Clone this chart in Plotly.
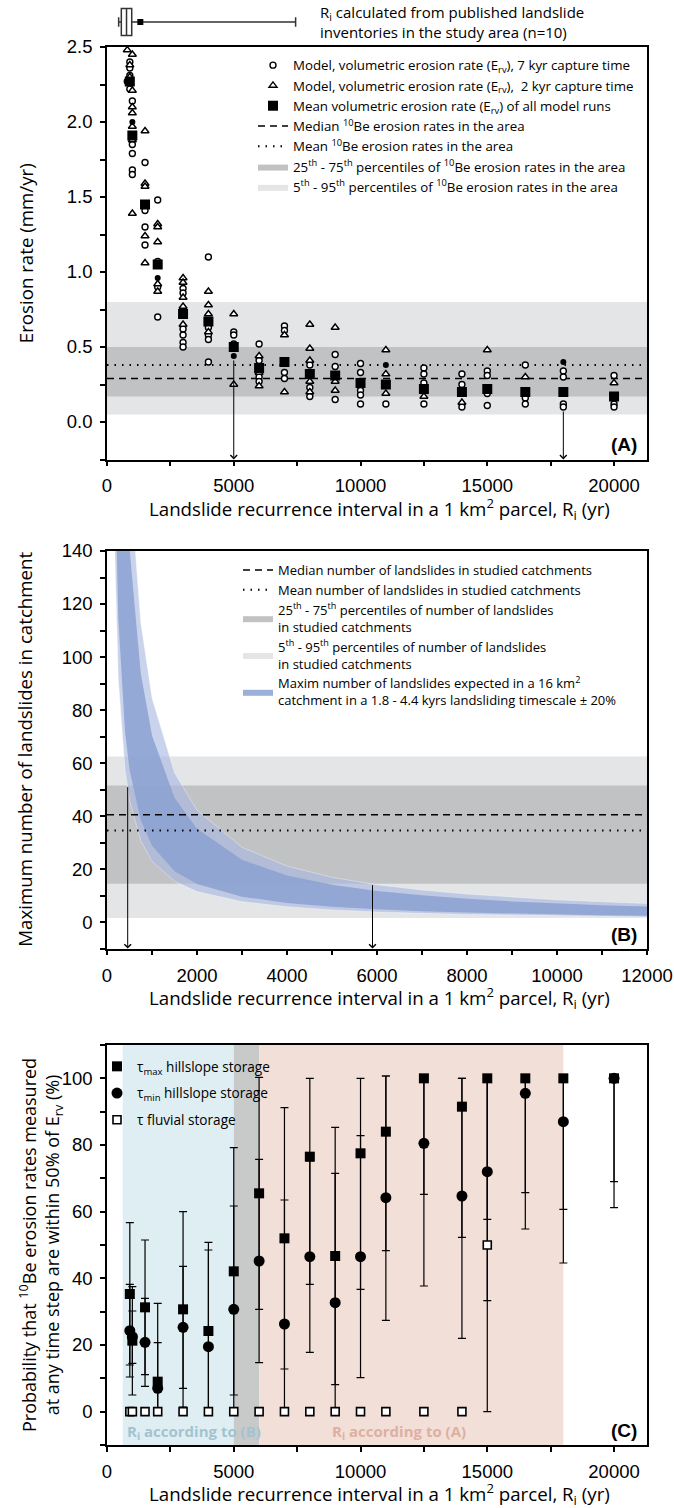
import plotly.graph_objects as go

W, H = 674, 1508

def px_x(p):
    return p / W

def px_y(p):
    return 1 - p / H

FONT = "Open Sans"
TICKFONT = dict(family="Liberation Sans, Arial", size=18.5, color="black")

# ---------------- Box strip: Ri from published inventories ----------------
ri_box_lowerfence = [460]
ri_box_q1 = [565]
ri_box_median = [770]
ri_box_q3 = [975]
ri_box_upperfence = [7440]
ri_box_mean = [1315]

# ---------------- Panel A ----------------
ri_mean = [900, 1000, 1500, 2000, 3000, 4000, 5000, 6000, 7000, 8000, 9000,
           10000, 11000, 12500, 14000, 15000, 16500, 18000, 20000]
erv_mean = [2.27, 1.91, 1.45, 1.05, 0.72, 0.67, 0.50, 0.36, 0.40, 0.32, 0.31,
            0.26, 0.25, 0.22, 0.20, 0.22, 0.20, 0.20, 0.17]

c7_ri = [800, 900, 900, 900, 900,
         1000, 1000, 1000, 1000, 1000,
         1500, 1500, 1500, 1500,
         2000, 2000, 2000, 2000,
         3000, 3000, 3000, 3000, 3000, 3000,
         4000, 4000, 4000, 4000, 4000,
         5000, 5000, 5000,
         6000, 6000, 6000, 6000,
         7000, 7000, 7000, 7000,
         8000, 8000, 8000,
         9000, 9000, 9000,
         10000, 10000, 10000, 10000, 10000,
         11000,
         12500, 12500, 12500, 12500,
         14000, 14000, 14000,
         15000, 15000, 15000, 15000,
         16500, 16500, 16500,
         18000, 18000, 18000, 18000,
         20000, 20000, 20000]
c7_erv = [2.27, 2.40, 2.36, 2.31, 2.22,
          2.14, 1.85, 1.79, 1.68, 1.65,
          1.73, 1.41, 1.30, 1.18,
          1.48, 1.07, 0.90, 0.70,
          0.89, 0.86, 0.62, 0.58, 0.53, 0.50,
          1.10, 0.63, 0.58, 0.55, 0.40,
          0.60, 0.58, 0.52,
          0.52, 0.41, 0.30, 0.27,
          0.64, 0.61, 0.33, 0.29,
          0.38, 0.23, 0.17,
          0.45, 0.37, 0.15,
          0.39, 0.33, 0.21, 0.18, 0.12,
          0.12,
          0.36, 0.32, 0.26, 0.12,
          0.32, 0.25, 0.10,
          0.34, 0.31, 0.19, 0.11,
          0.38, 0.16, 0.12,
          0.34, 0.30, 0.12, 0.10,
          0.31, 0.12, 0.10]

t2_ri = [800, 900, 900,
         1000, 1000, 1000, 1000, 1000, 1000, 1000,
         1500, 1500, 1500, 1500, 1500,
         2000, 2000, 2000, 2000, 2000,
         3000, 3000, 3000, 3000, 3000,
         4000, 4000, 4000, 4000,
         5000, 5000,
         6000, 6000, 6000,
         7000, 7000,
         8000, 8000, 8000, 8000, 8000,
         9000, 9000, 9000,
         11000, 11000, 11000,
         12500, 14000, 15000, 16500, 20000]
t2_erv = [2.48, 2.38, 2.30,
          2.45, 2.21, 2.10, 2.06, 1.97, 1.88, 1.39,
          1.94, 1.59, 1.57, 1.24, 1.06,
          1.32, 1.30, 1.20, 0.92, 0.87,
          0.96, 0.93, 0.83, 0.77, 0.65,
          0.87, 0.78, 0.72, 0.60,
          0.72, 0.25,
          0.44, 0.33, 0.24,
          0.58, 0.20,
          0.65, 0.49, 0.41, 0.27, 0.20,
          0.63, 0.27, 0.21,
          0.48, 0.32, 0.19,
          0.17, 0.13, 0.48, 0.30, 0.26]

dot_ri = [1000, 2000, 5000, 11000, 18000]
dot_erv = [2.00, 0.96, 0.44, 0.38, 0.40]

be_p5, be_p25, be_median, be_mean, be_p75, be_p95 = 0.05, 0.17, 0.29, 0.38, 0.50, 0.80
ri_span_A = [0, 21300]
arrows_A = [(5000, 0.42), (18000, 0.08)]

# ---------------- Panel B ----------------
ri_band = [150, 250, 400, 500, 750, 1000, 1500, 2000, 3000, 4000, 5000, 6000,
           7000, 8000, 9000, 10000, 11000, 12000]
nmax_upper_20 = [563, 338, 211, 169, 113, 84.5, 56.3, 42.2, 28.2, 21.1, 16.9, 14.1,
                 12.1, 10.6, 9.4, 8.4, 7.7, 7.0]
nmax_upper = [469, 282, 176, 141, 93.9, 70.4, 46.9, 35.2, 23.5, 17.6, 14.1, 11.7,
              10.1, 8.8, 7.8, 7.0, 6.4, 5.9]
nmax_lower = [192, 115, 72.0, 57.6, 38.4, 28.8, 19.2, 14.4, 9.6, 7.2, 5.8, 4.8,
              4.1, 3.6, 3.2, 2.9, 2.6, 2.4]
nmax_lower_20 = [154, 92.0, 57.6, 46.1, 30.7, 23.0, 15.4, 11.5, 7.7, 5.8, 4.6, 3.8,
                 3.3, 2.9, 2.6, 2.3, 2.1, 1.9]

nl_p5, nl_p25, nl_median, nl_mean, nl_p75, nl_p95 = 1.5, 14.5, 40.5, 34.6, 51.5, 62.5
ri_span_B = [0, 12000]
arrows_B = [(460, 51.5), (5900, 14.5)]

# ---------------- Panel C ----------------
ri_c = [900, 1000, 1500, 2000, 3000, 4000, 5000, 6000, 7000, 8000, 9000,
        10000, 11000, 12500, 14000, 15000, 16500, 18000, 20000]
tmax = [35.3, 21.3, 31.3, 9.0, 30.7, 24.2, 42.1, 65.5, 52.0, 76.5, 46.7,
        77.5, 84.0, 100, 91.5, 100, 100, 100, 100]
tmax_hi = [56.7, 37.5, 51.5, 32.5, 60.0, 50.8, 79.2, 100.3, 91.2, 100, 85.3,
           100, 100.7, 100, 100, 100, 100, 100, 100]
tmax_lo = [14.0, 5.0, 11.1, 0, 1.4, 0, 5.0, 30.7, 12.8, 38.2, 8.1,
           36.7, 48.3, 65.2, 52.3, 57.7, 65.7, 60.7, 69.0]
tmin = [24.3, 22.5, 20.8, 7.0, 25.3, 19.5, 30.7, 45.2, 26.3, 46.5, 32.7,
        46.5, 64.2, 80.5, 64.7, 72.0, 95.5, 87.0, 100]
tmin_hi = [38.2, 30.2, 34.0, 20.7, 43.6, 48.5, 61.7, 75.7, 63.5, 75.2, 71.5,
           82.8, 100.7, 100, 100, 100, 100, 100, 100]
tmin_lo = [10.4, 14.5, 7.6, 0, 7.0, 0, 0, 14.7, 0, 17.8, 0,
           10.2, 27.4, 37.7, 22.0, 33.3, 54.8, 44.6, 61.2]

fl_ri = [900, 1000, 1500, 2000, 3000, 4000, 5000, 6000, 7000, 8000, 9000,
         10000, 11000, 12500, 14000, 15000]
fl_p = [0, 0, 0, 0, 0, 0, 0, 0, 0, 0, 0, 0, 0, 0, 0, 50]
fl_err = [None] * 15 + [50]

region_B = [620, 5000]
region_AB = [5000, 6000]
region_A = [6000, 18000]

# ---------------- Build figure ----------------
fig = go.Figure()

def band(xs, lo, hi, color, name, xa, ya, legend, rank, show=True):
    return go.Scatter(x=[xs[0], xs[1], xs[1], xs[0], xs[0]], y=[lo, lo, hi, hi, lo],
                      fill="toself", fillcolor=color, mode="lines", line=dict(width=0),
                      name=name, xaxis=xa, yaxis=ya, legend=legend, legendrank=rank,
                      legendgroup=name, showlegend=show, hoverinfo="skip")

LIGHT = "#E4E5E7"
DARK = "#C1C2C4"

# Panel A
fig.add_trace(band(ri_span_A, be_p5, be_p95, LIGHT,
                   "5<sup>th</sup> - 95<sup>th</sup> percentiles of <sup>10</sup>Be erosion rates in the area",
                   "x", "y", "legend", 7))
fig.add_trace(band(ri_span_A, be_p25, be_p75, DARK,
                   "25<sup>th</sup> - 75<sup>th</sup> percentiles of <sup>10</sup>Be erosion rates in the area",
                   "x", "y", "legend", 6))
fig.add_trace(go.Scatter(x=ri_span_A, y=[be_median, be_median], mode="lines",
                         line=dict(color="black", width=1.5, dash="7px,5px"),
                         name="Median <sup>10</sup>Be erosion rates in the area",
                         xaxis="x", yaxis="y", legend="legend", legendrank=4, legendgroup="a4"))
fig.add_trace(go.Scatter(x=ri_span_A, y=[be_mean, be_mean], mode="lines",
                         line=dict(color="black", width=2, dash="1.5px,6px"),
                         name="Mean <sup>10</sup>Be erosion rates in the area",
                         xaxis="x", yaxis="y", legend="legend", legendrank=5, legendgroup="a5"))
fig.add_trace(go.Scatter(x=c7_ri, y=c7_erv, mode="markers",
                         marker=dict(symbol="circle", size=6, color="white",
                                     line=dict(color="black", width=1.4)),
                         name="Model, volumetric erosion rate (E<sub>rv</sub>), 7 kyr capture time",
                         xaxis="x", yaxis="y", legend="legend", legendrank=1, legendgroup="a1"))
fig.add_trace(go.Scatter(x=t2_ri, y=t2_erv, mode="markers",
                         marker=dict(symbol="triangle-up", size=7, color="white",
                                     line=dict(color="black", width=1.4)),
                         name="Model, volumetric erosion rate (E<sub>rv</sub>),  2 kyr capture time",
                         xaxis="x", yaxis="y", legend="legend", legendrank=2, legendgroup="a2"))
fig.add_trace(go.Scatter(x=dot_ri, y=dot_erv, mode="markers",
                         marker=dict(symbol="circle", size=6, color="black"),
                         showlegend=False, xaxis="x", yaxis="y"))
fig.add_trace(go.Scatter(x=ri_mean, y=erv_mean, mode="markers",
                         marker=dict(symbol="square", size=10, color="black"),
                         name="Mean volumetric erosion rate (E<sub>rv</sub>) of all model runs",
                         xaxis="x", yaxis="y", legend="legend", legendrank=3, legendgroup="a3"))

# Panel B
fig.add_trace(band(ri_span_B, nl_p5, nl_p95, LIGHT,
                   "5<sup>th</sup> - 95<sup>th</sup> percentiles of number of landslides<br>in studied catchments",
                   "x2", "y2", "legend2", 4))
fig.add_trace(band(ri_span_B, nl_p25, nl_p75, DARK,
                   "25<sup>th</sup> - 75<sup>th</sup> percentiles of number of landslides<br>in studied catchments",
                   "x2", "y2", "legend2", 3))
fig.add_trace(go.Scatter(x=ri_band + ri_band[::-1], y=nmax_upper_20 + nmax_lower_20[::-1],
                         fill="toself", fillcolor="rgba(170,186,225,0.63)", mode="lines",
                         line=dict(width=0.6, color="rgba(255,255,255,0.6)"),
                         showlegend=False, xaxis="x2", yaxis="y2", hoverinfo="skip"))
fig.add_trace(go.Scatter(x=ri_band + ri_band[::-1], y=nmax_upper + nmax_lower[::-1],
                         fill="toself", fillcolor="rgba(139,161,210,0.85)", mode="lines",
                         line=dict(width=0),
                         name="Maxim number of landslides expected in a 16 km<sup>2</sup><br>catchment in a 1.8 - 4.4 kyrs landsliding timescale ± 20%",
                         xaxis="x2", yaxis="y2", legend="legend2", legendrank=5, legendgroup="b5",
                         hoverinfo="skip"))
fig.add_trace(go.Scatter(x=ri_span_B, y=[nl_median, nl_median], mode="lines",
                         line=dict(color="black", width=1.5, dash="7px,5px"),
                         name="Median number of landslides in studied catchments",
                         xaxis="x2", yaxis="y2", legend="legend2", legendrank=1, legendgroup="b1"))
fig.add_trace(go.Scatter(x=ri_span_B, y=[nl_mean, nl_mean], mode="lines",
                         line=dict(color="black", width=2, dash="1.5px,6px"),
                         name="Mean number of landslides in studied catchments",
                         xaxis="x2", yaxis="y2", legend="legend2", legendrank=2, legendgroup="b2"))

# Panel C
def errs(v, hi, lo):
    plus = [h - a for a, h in zip(v, hi)]
    minus = [a - l for a, l in zip(v, lo)]
    return plus, minus

mx_p, mx_m = errs(tmax, tmax_hi, tmax_lo)
mn_p, mn_m = errs(tmin, tmin_hi, tmin_lo)

fig.add_trace(go.Scatter(x=ri_c, y=tmin, mode="markers",
                         marker=dict(symbol="circle", size=11, color="black"),
                         error_y=dict(type="data", symmetric=False, array=mn_p, arrayminus=mn_m,
                                      color="black", thickness=1.2, width=4),
                         name="τ<sub>min</sub> hillslope storage",
                         xaxis="x3", yaxis="y3", legend="legend3", legendrank=2, legendgroup="c2"))
fig.add_trace(go.Scatter(x=ri_c, y=tmax, mode="markers",
                         marker=dict(symbol="square", size=10, color="black"),
                         error_y=dict(type="data", symmetric=False, array=mx_p, arrayminus=mx_m,
                                      color="black", thickness=1.2, width=4),
                         name="τ<sub>max</sub> hillslope storage",
                         xaxis="x3", yaxis="y3", legend="legend3", legendrank=1, legendgroup="c1"))
fig.add_trace(go.Scatter(x=fl_ri, y=fl_p, mode="markers",
                         marker=dict(symbol="square", size=8, color="white",
                                     line=dict(color="black", width=1.6)),
                         error_y=dict(type="data", array=fl_err, color="black", thickness=1.2, width=4),
                         name="τ fluvial storage",
                         xaxis="x3", yaxis="y3", legend="legend3", legendrank=3, legendgroup="c3"))

# Box strip
fig.add_trace(go.Box(y=[0], q1=ri_box_q1, median=ri_box_median, q3=ri_box_q3,
                     lowerfence=ri_box_lowerfence, upperfence=ri_box_upperfence,
                     orientation="h", fillcolor="white", line=dict(color="#333333", width=1.5),
                     whiskerwidth=0.35, width=0.75, boxpoints=False, showlegend=False,
                     xaxis="x4", yaxis="y4", hoverinfo="skip"))
fig.add_trace(go.Scatter(x=ri_box_mean, y=[0], mode="markers",
                         marker=dict(symbol="square", size=6, color="black"),
                         showlegend=False, xaxis="x4", yaxis="y4"))

# ---------------- Layout ----------------
xdom = [px_x(107), px_x(647)]
domA = [px_y(459.5), px_y(47)]
domB = [px_y(948.6), px_y(551)]
domC = [px_y(1445), px_y(1045)]
domBox = [px_y(40), px_y(4)]

def main_axis(dom, rng, dtick, mdtick, anchor, fmt=None):
    d = dict(domain=dom, range=rng, anchor=anchor, tickmode="linear", tick0=0, dtick=dtick,
             showline=True, linecolor="black", linewidth=1.5, mirror=True,
             ticks="outside", ticklen=5, tickwidth=1.5, tickcolor="black",
             showgrid=False, zeroline=False, tickfont=TICKFONT, automargin=False,
             ticklabelstandoff=4,
             minor=dict(ticks="outside", ticklen=5, tickwidth=1.5, tickcolor="black",
                        dtick=mdtick, tick0=0, showgrid=False))
    if fmt:
        d["tickformat"] = fmt
    return d

def overlay(over, side, anchor, rng, dtick, mdtick):
    return dict(overlaying=over, side=side, anchor=anchor, range=rng, tickmode="linear",
                tick0=0, dtick=dtick, ticks="inside", ticklen=5, tickwidth=1.5,
                tickcolor="black", showticklabels=False, showline=False, showgrid=False,
                zeroline=False,
                minor=dict(ticks="inside", ticklen=5, tickwidth=1.5, tickcolor="black",
                           dtick=mdtick, tick0=0, showgrid=False))

rA_x, rA_y = [0, 21300], [-0.25, 2.5]
rB_x, rB_y = [0, 12000], [-10, 140]
rC_x, rC_y = [0, 21300], [-10, 110]

layout = dict(
    width=W, height=H, margin=dict(l=0, r=0, t=0, b=0),
    paper_bgcolor="white", plot_bgcolor="white",
    font=dict(family=FONT, size=14, color="black"),
    xaxis=main_axis(xdom, rA_x, 5000, 2500, "y", "d"),
    yaxis=main_axis(domA, rA_y, 0.5, 0.25, "x", ".1f"),
    xaxis2=main_axis(xdom, rB_x, 2000, 1000, "y2", "d"),
    yaxis2=main_axis(domB, rB_y, 20, 10, "x2"),
    xaxis3=main_axis(xdom, rC_x, 5000, 2500, "y3", "d"),
    yaxis3=main_axis(domC, rC_y, 20, 10, "x3"),
    xaxis4=dict(domain=xdom, range=rA_x, anchor="y4", visible=False),
    yaxis4=dict(domain=domBox, range=[-0.5, 0.5], anchor="x4", visible=False),
    xaxis5=overlay("x", "top", "y", rA_x, 5000, 2500),
    yaxis5=overlay("y", "right", "x", rA_y, 0.5, 0.25),
    xaxis6=overlay("x2", "top", "y2", rB_x, 2000, 1000),
    yaxis6=overlay("y2", "right", "x2", rB_y, 20, 10),
    xaxis7=overlay("x3", "top", "y3", rC_x, 5000, 2500),
    yaxis7=overlay("y3", "right", "x3", rC_y, 20, 10),
    legend=dict(x=px_x(253), y=px_y(50), xanchor="left", yanchor="top",
                bgcolor="rgba(0,0,0,0)", font=dict(family=FONT, size=13.3),
                tracegroupgap=0, itemwidth=30),
    legend2=dict(x=px_x(238), y=px_y(555), xanchor="left", yanchor="top",
                 bgcolor="rgba(0,0,0,0)", font=dict(family=FONT, size=13),
                 tracegroupgap=0, itemwidth=30),
    legend3=dict(x=px_x(97), y=px_y(1051), xanchor="left", yanchor="top",
                 bgcolor="rgba(0,0,0,0)", font=dict(family=FONT, size=13.6),
                 tracegroupgap=6, itemwidth=30),
    showlegend=True,
)
fig.update_layout(**layout)

# Panel C background regions
for (r, col) in [(region_B, "#DFEEF3"), (region_AB, "#C8C9C9"), (region_A, "#F2DFD8")]:
    fig.add_shape(type="rect", xref="x3", yref="y3 domain", x0=r[0], x1=r[1], y0=0, y1=1,
                  fillcolor=col, line=dict(width=0), layer="below")

ann = []
# arrows
for (xv, yv) in arrows_A:
    ann.append(dict(x=xv, y=rA_y[0], ax=xv, ay=yv, xref="x", yref="y", axref="x", ayref="y",
                    showarrow=True, arrowhead=4, arrowsize=1.3, arrowwidth=1, arrowcolor="black",
                    text="", standoff=0, startstandoff=0))
for (xv, yv) in arrows_B:
    ann.append(dict(x=xv, y=rB_y[0], ax=xv, ay=yv, xref="x2", yref="y2", axref="x2", ayref="y2",
                    showarrow=True, arrowhead=4, arrowsize=1.3, arrowwidth=1, arrowcolor="black",
                    text="", standoff=0, startstandoff=0))
# panel letters
for xr, yr, t in [("x", "y", "(A)"), ("x2", "y2", "(B)"), ("x3", "y3", "(C)")]:
    ann.append(dict(x=0.985, y=0.005, xref=xr + " domain", yref=yr + " domain", text="<b>" + t + "</b>",
                    showarrow=False, xanchor="right", yanchor="bottom",
                    font=dict(family="Liberation Sans, Arial", size=19, color="black")))
# Ri according to
ann.append(dict(x=720, y=-6, xref="x3", yref="y3", text="<b>R<sub>i</sub> according to (B)</b>",
                showarrow=False, xanchor="left", yanchor="middle",
                font=dict(family=FONT, size=15, color="#A3C3D1")))
ann.append(dict(x=8800, y=-6, xref="x3", yref="y3", text="<b>R<sub>i</sub> according to (A)</b>",
                showarrow=False, xanchor="left", yanchor="middle",
                font=dict(family=FONT, size=15, color="#DDB0A2")))
# axis titles
xt = "Landslide recurrence interval in a 1 km<sup>2</sup> parcel, R<sub>i</sub> (yr)"
for ypx in [509, 998, 1494]:
    ann.append(dict(x=px_x(379), y=px_y(ypx), xref="paper", yref="paper", text=xt,
                    showarrow=False, xanchor="center", yanchor="middle",
                    font=dict(family=FONT, size=18.7, color="black")))
ann.append(dict(x=px_x(25), y=(domA[0] + domA[1]) / 2, xref="paper", yref="paper",
                text="Erosion rate (mm/yr)", textangle=-90, showarrow=False,
                xanchor="center", yanchor="middle", font=dict(family=FONT, size=18.7)))
ann.append(dict(x=px_x(25), y=(domB[0] + domB[1]) / 2, xref="paper", yref="paper",
                text="Maximum number of landslides in catchment", textangle=-90, showarrow=False,
                xanchor="center", yanchor="middle", font=dict(family=FONT, size=18.7)))
ann.append(dict(x=px_x(41), y=(domC[0] + domC[1]) / 2, xref="paper", yref="paper",
                text="Probability that <sup>10</sup>Be erosion rates measured<br>at any time step are within 50% of E<sub>rv</sub> (%)",
                textangle=-90, showarrow=False,
                xanchor="center", yanchor="middle", font=dict(family=FONT, size=18)))
# box text
ann.append(dict(x=px_x(318), y=px_y(22), xref="paper", yref="paper",
                text="R<sub>i</sub> calculated from published landslide<br>inventories in the study area (n=10)",
                showarrow=False, xanchor="left", yanchor="middle", align="left",
                font=dict(family=FONT, size=15)))
fig.update_layout(annotations=ann)

fig.write_html("out.html")
